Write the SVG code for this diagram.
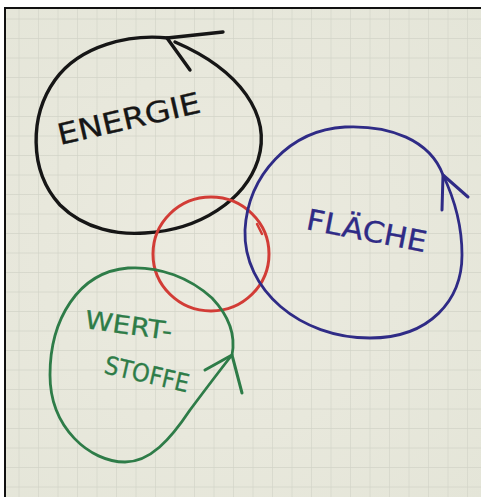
<svg xmlns="http://www.w3.org/2000/svg" width="481" height="497" viewBox="0 0 481 497">
  <defs>
    <pattern id="grid" x="0" y="0" width="19.5" height="19.5" patternUnits="userSpaceOnUse">
      <path d="M19.5,0 V19.5 M0,19.5 H19.5" fill="none" stroke="#d2d4c8" stroke-width="1.3"/>
    </pattern>
    <radialGradient id="paper" cx="0.45" cy="0.5" r="0.75">
      <stop offset="0" stop-color="#ecebe0"/>
      <stop offset="1" stop-color="#e4e5d8"/>
    </radialGradient>
  </defs>
  <style>
    .ring { fill: none; stroke-linecap: round; stroke-linejoin: round; }
    .lbl { font-family: "DejaVu Sans", "Liberation Sans", sans-serif; stroke-width: 0.3; }
    .k { stroke: #161616; }
    .r { stroke: #d23c36; }
    .b { stroke: #2f2b86; }
    .g { stroke: #2e7c48; }
  </style>
  <rect x="0" y="0" width="481" height="497" fill="#ffffff"/>
  <rect x="5" y="8" width="476" height="489" fill="url(#paper)"/>
  <rect x="5" y="8" width="476" height="489" fill="url(#grid)"/>
  <path d="M5,497 V8 H481" fill="none" stroke="#111" stroke-width="2"/>

  <g id="node-energie">
    <path class="ring k" stroke-width="3.4" d="M168,38 C130,34 80,45 55,80 C30,115 28,170 60,205 C85,230 120,235 145,233 C200,230 245,200 258,160 C272,115 240,70 175,42"/>
    <path class="ring k" stroke-width="3.4" d="M223,32 L167,38 L190,70"/>
    <text class="lbl k" fill="#161616" font-size="29" textLength="146" lengthAdjust="spacingAndGlyphs" transform="translate(60,145) rotate(-13)">ENERGIE</text>
  </g>

  <g id="node-center">
    <ellipse class="ring r" stroke-width="3" cx="211" cy="254" rx="58" ry="57"/>
    <path class="ring r" stroke-width="2.5" d="M257,224 L262,234"/>
  </g>

  <g id="node-flaeche">
    <path class="ring b" stroke-width="2.8" d="M443,175 C430,140 390,125 345,127 C290,130 248,175 245,230 C243,290 300,338 370,338 C430,338 462,300 462,255 C462,225 455,200 443,175"/>
    <path class="ring b" stroke-width="3" d="M442,210 L443,175 L468,197"/>
    <text class="lbl b" fill="#2f2b86" font-size="29" textLength="122" lengthAdjust="spacingAndGlyphs" transform="translate(305,229) rotate(11)">FLÄCHE</text>
  </g>

  <g id="node-wertstoffe">
    <path class="ring g" stroke-width="2.8" d="M232,355 C236,335 228,315 212,298 C190,278 160,266 128,268 C78,272 50,320 50,375 C50,428 90,462 125,462 C150,462 170,440 190,410 C205,390 220,370 232,355"/>
    <path class="ring g" stroke-width="3" d="M205,370 L232,355 L242,393"/>
    <text class="lbl g" fill="#2e7c48" font-size="25" textLength="88" lengthAdjust="spacingAndGlyphs" transform="translate(84,328) rotate(8)">WERT-</text>
    <text class="lbl g" fill="#2e7c48" font-size="25" textLength="86" lengthAdjust="spacingAndGlyphs" transform="translate(103,373) rotate(13)">STOFFE</text>
  </g>
</svg>
